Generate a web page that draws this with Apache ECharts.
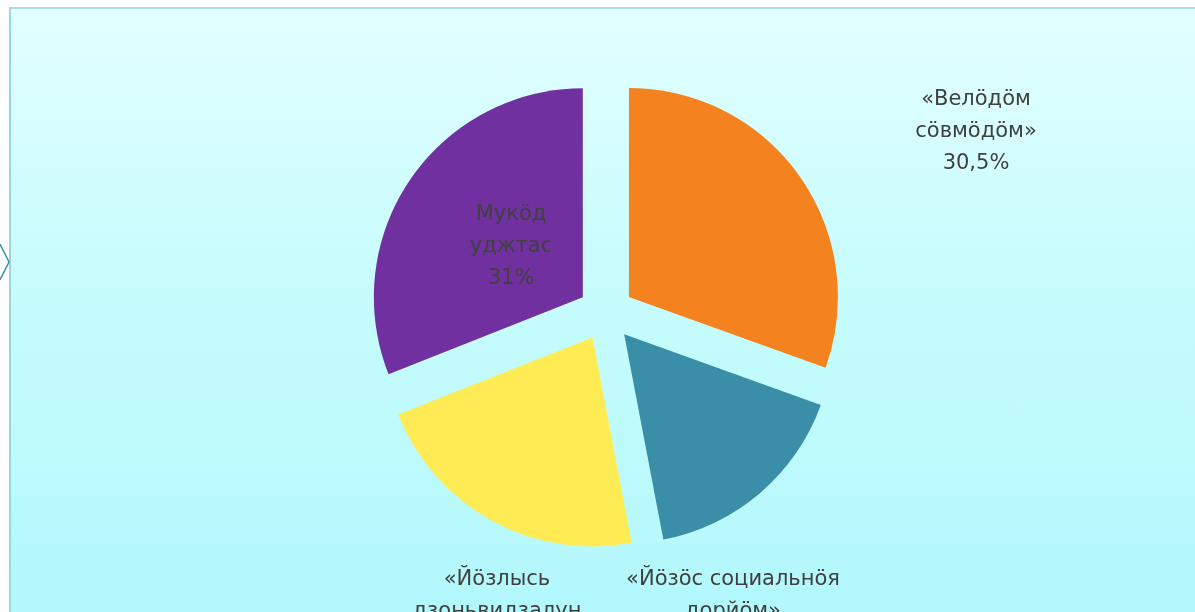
<!DOCTYPE html>
<html>
<head>
<meta charset="utf-8">
<script src="https://cdn.jsdelivr.net/npm/echarts@6/dist/echarts.min.js"></script>
<style>
html,body{margin:0;padding:0;background:#ffffff;width:1195px;height:612px;overflow:hidden;}
#frame{position:absolute;left:9px;top:7px;width:1186px;height:605px;box-sizing:border-box;border-left:2px solid #9ad6de;border-top:2px solid #a8dde3;
background:linear-gradient(to bottom,#e2ffff 0%,#c8fcfd 45%,#b2f8fc 100%);}
#chart{position:absolute;left:0;top:0;width:1195px;height:612px;}
</style>
</head>
<body>
<div id="frame"></div>
<div id="chart"></div>
<script>
// Data
const categories = [
  "«Велӧдӧм\nсӧвмӧдӧм»",
  "«Йӧзӧс социальнӧя\nдорйӧм»",
  "«Йӧзлысь\nдзоньвидзалун\nвидзӧм»",
  "Мукӧд\nуджтас"
];
const values = [30.5, 16.5, 22, 31];
const valueLabels = ["30,5%", "16,5%", "22%", "31%"];
const colors = ["#f4821e", "#3a8ea8", "#ffec55", "#7030a0"];

const chart = echarts.init(document.getElementById('chart'), null, {renderer: 'canvas'});

// label anchor positions (top-centre of each text block)
const labelPos = [
  [976, 84],
  [733, 564],
  [497, 564],
  [511, 199]
];

const data = categories.map((c, i) => ({
  name: c,
  value: values[i],
  selected: true,
  itemStyle: {color: colors[i]}
}));

const labelGraphics = categories.map((c, i) => ({
  type: 'text',
  x: labelPos[i][0],
  y: labelPos[i][1],
  z: 100,
  style: {
    text: c + "\n" + valueLabels[i],
    fontFamily: 'DejaVu Sans',
    fontSize: 21,
    lineHeight: 32,
    fill: '#404040',
    align: 'center',
    verticalAlign: 'top'
  }
}));

chart.setOption({
  backgroundColor: 'transparent',
  animation: false,
  graphic: [{
    type: 'polyline',
    shape: {points: [[0, 244], [9, 262], [0, 280]]},
    style: {stroke: '#3a8ea8', lineWidth: 1.5, fill: null}
  }].concat(labelGraphics),
  series: [{
    type: 'pie',
    center: [606, 313],
    radius: [0, 209],
    startAngle: 90,
    clockwise: true,
    selectedMode: 'multiple',
    selectedOffset: 28,
    emphasis: {disabled: true},
    label: {show: false},
    labelLine: {show: false},
    data: data
  }]
});
</script>
</body>
</html>
